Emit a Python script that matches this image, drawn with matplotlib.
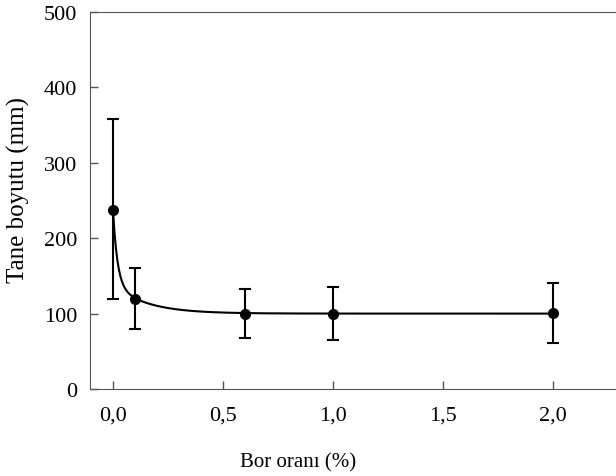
import numpy as np
import matplotlib
matplotlib.use("Agg")
import matplotlib.pyplot as plt
from matplotlib.ticker import FuncFormatter

# data
bor = [0.0, 0.1, 0.6, 1.0, 2.0]
tane = [238, 120, 100, 100, 101]
err_low = [118, 40, 33, 35, 40]
err_high = [120, 40, 32, 35, 40]
xticks = [0.0, 0.5, 1.0, 1.5, 2.0]
yticks = [0, 100, 200, 300, 400, 500]
# fitted curve parameters  y = y0 + a1*exp(-x/c1) + a2*exp(-x/c2)
fit_y0, fit_a1, fit_c1, fit_a2, fit_c2 = 100.0, 99.0, 0.02, 39.0, 0.15

plt.rcParams['font.family'] = ['Liberation Serif', 'DejaVu Serif']
fig = plt.figure(figsize=(6.16, 4.77), dpi=100)
ax = fig.add_axes([90/616, 1-390/477, 1-90/616, (390-13)/477])

xs = np.linspace(0, 2.0, 600)
ys = fit_y0 + fit_a1*np.exp(-xs/fit_c1) + fit_a2*np.exp(-xs/fit_c2)
ax.plot(xs, ys, color='black', lw=1.5)
ax.errorbar(bor, tane, yerr=[err_low, err_high], fmt='o', color='black',
            ms=7, capsize=4.5, elinewidth=1.5, capthick=1.5)

ax.set_xlim(-0.1045, 2.286)
ax.set_ylim(0, 500)
ax.set_xticks(xticks)
ax.set_yticks(yticks)
ax.xaxis.set_major_formatter(FuncFormatter(lambda v, p: f"{v:.1f}".replace('.', ',')))
ax.tick_params(direction='in', length=6, width=1, color='#555555', labelsize=16)
ax.tick_params(axis='x', pad=12)
ax.tick_params(axis='y', pad=9)
for s in ['left', 'bottom', 'top']:
    ax.spines[s].set_color('#555555')
ax.spines['right'].set_visible(False)
ax.set_xlabel('Bor oranı (%)', fontsize=15, va='center')
ax.set_ylabel('Tane boyutu (mm)', fontsize=18, va='center')
ax.xaxis.set_label_coords((298.5-90)/526, (390-463)/377)
ax.yaxis.set_label_coords((18-90)/526, (390-190)/377)
fig.savefig('out.png', dpi=100)
